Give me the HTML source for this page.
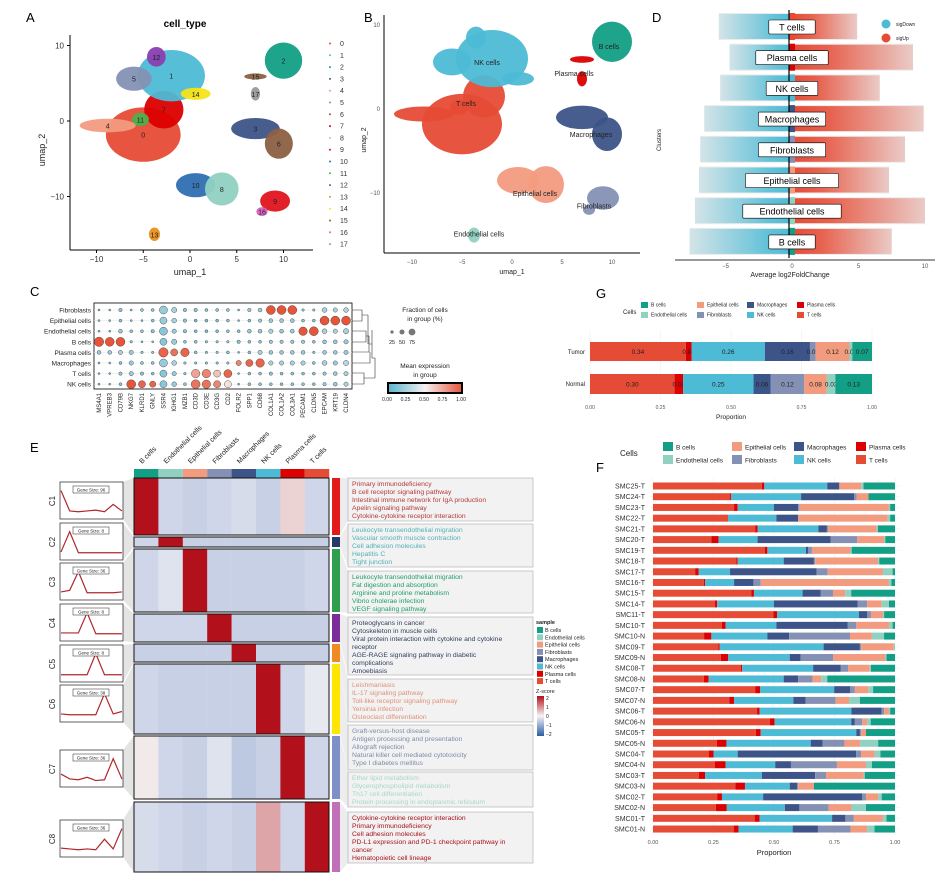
<!DOCTYPE html>
<html><head><meta charset="utf-8"><title>Single-cell figure</title>
<style>
html,body{margin:0;padding:0;background:#fff;}
svg{display:block;font-family:"Liberation Sans",Arial,sans-serif;}
</style></head>
<body>
<svg id="fig" width="947" height="880" viewBox="0 0 947 880" xmlns="http://www.w3.org/2000/svg">
<defs>
<linearGradient id="cgrad" x1="0" x2="1" y1="0" y2="0"><stop offset="0" stop-color="#5ab4cc"/><stop offset="0.5" stop-color="#f5f0f0"/><stop offset="1" stop-color="#e6553a"/></linearGradient>
<linearGradient id="zgrad" x1="0" x2="0" y1="1" y2="0"><stop offset="0" stop-color="#2b5fa0"/><stop offset="0.35" stop-color="#b8c4e0"/><stop offset="0.5" stop-color="#f5f5f5"/><stop offset="1" stop-color="#b2101a"/></linearGradient>
<linearGradient id="dgradL" x1="1" x2="0" y1="0" y2="0"><stop offset="0" stop-color="#4dbbd5" stop-opacity="1"/><stop offset="0.25" stop-color="#4dbbd5" stop-opacity="0.85"/><stop offset="1" stop-color="#4dbbd5" stop-opacity="0.15"/></linearGradient>
<linearGradient id="dgradR" x1="0" x2="1" y1="0" y2="0"><stop offset="0" stop-color="#e64b35" stop-opacity="1"/><stop offset="0.3" stop-color="#e64b35" stop-opacity="0.85"/><stop offset="1" stop-color="#e64b35" stop-opacity="0.2"/></linearGradient>
</defs>
</svg>
<script>
// ---------- data ----------
const typeNames = ['B cells','Endothelial cells','Epithelial cells','Fibroblasts','Macrophages','NK cells','Plasma cells','T cells'];
const typeCols  = ['#139f86','#91d1c2','#f39b7f','#8491b4','#3c5488','#4dbbd5','#dc0000','#e64b35'];
// stacking order for proportion bars: T, Plasma, NK, Mac, Fib, Epi, Endo, B
const stackOrder = [7,6,5,4,3,2,1,0];

// UMAP clusters (umap_1, umap_2 centers, spreads)
const clusterIds   = [0,7,11,1,5,12,14,4,2,15,17,3,6,10,8,9,16,13];
const clusterU     = [-5,-2.8,-5.3,-2,-6,-3.6,0.6,-8.8,10,7,7,7,9.5,0.6,3.4,9.1,7.7,-3.8];
const clusterV     = [-1.8,1.5,0.2,6,5.6,8.5,3.6,-0.6,8,5.9,3.6,-1,-3,-8.5,-9,-10.6,-12,-15];
const clusterRu    = [4,2.1,0.9,3.6,1.9,1,1.6,3,2,1.2,0.5,2.6,1.5,2.1,1.8,1.6,0.6,0.6];
const clusterRv    = [3.6,2.5,0.9,3.4,1.6,1.3,0.8,0.9,2.4,0.4,0.9,1.4,2.0,1.6,2.2,1.4,0.6,0.9];
const clusterColor = ['#e64b35','#dc0000','#4daf4a','#4dbbd5','#8491b4','#8a3fb0','#f5e31a','#f39b7f','#139f86','#8b6042','#9a9a9a','#3c5488','#8b6042','#2f6fb2','#91d1c2','#e0141e','#d860c0','#e89020'];
const clusterType  = [7,7,7,5,5,5,5,7,0,6,6,4,4,2,2,3,3,1];

// Panel C dot plot
const dotGenes = ['MS4A1','VPREB3','CD79B','NKG7','KLRD1','GNLY','SSR4','IGHG1','MZB1','CD3D','CD3E','CD3G','CD2','FOLR2','SPP1','CD68','COL1A1','COL1A2','COL3A1','PECAM1','CLDN5','EPCAM','KRT19','CLDN4'];
const dotRows = ['Fibroblasts','Epithelial cells','Endothelial cells','B cells','Plasma cells','Macrophages','T cells','NK cells'];
const expFib  = [.1,.1,.15,.1,.15,.15,.2,.25,.15,.15,.15,.15,.15,.1,.2,.25,1,1,1,.15,.15,.25,.25,.25];
const expEpi  = [.1,.1,.15,.1,.1,.15,.2,.25,.15,.1,.1,.1,.15,.1,.15,.2,.2,.2,.2,.15,.15,1,1,1];
const expEndo = [.1,.1,.2,.15,.15,.15,.15,.2,.15,.1,.1,.1,.15,.15,.2,.2,.25,.2,.2,1,1,.25,.25,.25];
const expB    = [1,1,1,.15,.1,.1,.15,.2,.15,.15,.15,.15,.15,.15,.15,.15,.2,.2,.2,.2,.15,.2,.2,.2];
const expPl   = [.2,.2,.25,.2,.15,.15,.95,.9,.95,.15,.15,.15,.15,.1,.15,.25,.2,.2,.2,.2,.15,.2,.2,.2];
const expMac  = [.1,.1,.15,.2,.15,.15,.2,.25,.15,.15,.15,.15,.15,.85,.95,.95,.25,.25,.25,.25,.15,.25,.2,.3];
const expT    = [.1,.1,.2,.2,.15,.15,.15,.2,.15,.75,.85,.65,.95,.1,.15,.15,.15,.15,.15,.15,.15,.2,.2,.25];
const expNK   = [.1,.1,.15,1,.95,.95,.15,.2,.15,.9,.9,.85,.55,.1,.15,.15,.15,.15,.15,.15,.15,.2,.2,.25];
const fracFib  = [5,5,20,5,15,15,70,40,20,20,15,15,15,5,20,25,80,80,80,10,10,35,30,35];
const fracEpi  = [5,5,15,5,5,15,60,35,20,15,15,15,15,5,15,20,25,25,25,15,15,80,80,80];
const fracEndo = [5,5,25,15,15,20,70,30,20,15,15,15,15,15,25,25,30,25,25,75,80,35,30,40];
const fracB    = [85,80,80,10,5,5,60,40,15,15,10,10,10,20,15,15,20,20,20,20,15,25,25,30];
const fracPl   = [25,25,30,30,10,10,85,60,75,15,10,10,15,5,15,30,25,25,25,25,10,25,25,30];
const fracMac  = [5,5,15,30,15,15,70,35,10,10,10,10,10,40,60,75,30,30,30,30,15,35,30,40];
const fracT    = [5,5,20,30,20,15,60,30,10,75,75,60,70,5,15,15,20,15,15,15,15,20,25,30];
const fracNK   = [5,5,15,80,60,50,60,35,15,80,75,60,60,5,15,15,15,15,15,15,15,20,25,30];

// Panel D differential expression bands (min / max log2FC per cluster)
const degClusters = ['T cells','Plasma cells','NK cells','Macrophages','Fibroblasts','Epithelial cells','Endothelial cells','B cells'];
const degTypeIdx  = [7,6,5,4,3,2,1,0];
const degMin = [-5.5,-4.7,-5.4,-6.6,-6.9,-7,-7.3,-7.7];
const degMax = [4.9,9.1,6.6,9.9,8.5,7.3,10,7.5];

// Panel E heatmap (cluster x cell-type z-scores)
const heatClusters = ['C1','C2','C3','C4','C5','C6','C7','C8'];
const zC1 = [2,-0.5,-0.6,-0.5,-0.4,-0.6,0.3,-0.5];
const zC2 = [-0.5,2,-0.6,-0.6,-0.6,-0.6,-0.6,-0.6];
const zC3 = [-0.5,-0.3,2,-0.6,-0.6,-0.6,-0.6,-0.5];
const zC4 = [-0.5,-0.5,-0.5,2,-0.6,-0.6,-0.6,-0.6];
const zC5 = [-0.6,-0.6,-0.6,-0.6,2,-0.6,-0.6,-0.6];
const zC6 = [-0.5,-0.6,-0.6,-0.6,-0.6,2,-0.5,-0.2];
const zC7 = [0.1,-0.5,-0.6,-0.3,-0.7,-0.6,2,-0.5];
const zC8 = [-0.4,-0.5,-0.6,-0.5,-0.6,0.7,-0.5,2];
const geneSizes = ['Gene Size: 96','Gene Size: 8','Gene Size: 36','Gene Size: 8','Gene Size: 8','Gene Size: 38','Gene Size: 36','Gene Size: 36'];
const pathTexts = [
 ['Primary immunodeficiency','B cell receptor signaling pathway','Intestinal immune network for IgA production','Apelin signaling pathway','Cytokine-cytokine receptor interaction'],
 ['Leukocyte transendothelial migration','Vascular smooth muscle contraction','Cell adhesion molecules','Hepatitis C','Tight junction'],
 ['Leukocyte transendothelial migration','Fat digestion and absorption','Arginine and proline metabolism','Vibrio cholerae infection','VEGF signaling pathway'],
 ['Proteoglycans in cancer','Cytoskeleton in muscle cells','Viral protein interaction with cytokine and cytokine','receptor','AGE-RAGE signaling pathway in diabetic','complications','Amoebiasis'],
 ['Leishmaniasis','IL-17 signaling pathway','Toll-like receptor signaling pathway','Yersinia infection','Osteoclast differentiation'],
 ['Graft-versus-host disease','Antigen processing and presentation','Allograft rejection','Natural killer cell mediated cytotoxicity','Type I diabetes mellitus'],
 ['Ether lipid metabolism','Glycerophospholipid metabolism','Th17 cell differentiation','Protein processing in endoplasmic reticulum'],
 ['Cytokine-cytokine receptor interaction','Primary immunodeficiency','Cell adhesion molecules','PD-L1 expression and PD-1 checkpoint pathway in','cancer','Hematopoietic cell lineage']
];

// Panel G
const gGroups = ['Tumor','Normal'];
const gTumor  = [0.34,0.02,0.26,0.16,0.02,0.12,0.01,0.07];
const gNormal = [0.30,0.03,0.25,0.06,0.12,0.08,0.03,0.13];

// Panel F
const fSamples = ['SMC25-T','SMC24-T','SMC23-T','SMC22-T','SMC21-T','SMC20-T','SMC19-T','SMC18-T','SMC17-T','SMC16-T','SMC15-T','SMC14-T','SMC11-T','SMC10-T','SMC10-N','SMC09-T','SMC09-N','SMC08-T','SMC08-N','SMC07-T','SMC07-N','SMC06-T','SMC06-N','SMC05-T','SMC05-N','SMC04-T','SMC04-N','SMC03-T','SMC03-N','SMC02-T','SMC02-N','SMC01-T','SMC01-N'];
const fT    = [.45,.32,.335,.31,.42,.24,.465,.345,.175,.21,.405,.255,.5,.285,.21,.27,.28,.365,.21,.42,.315,.43,.48,.425,.265,.23,.255,.19,.34,.265,.26,.42,.335];
const fPl   = [.01,.005,.015,0,.01,.03,.01,.005,.015,.005,.01,.01,.015,.015,.03,.005,.03,.005,.02,.02,.02,.01,.02,.02,.04,.02,.045,.025,.04,.02,.045,.02,.02];
const fNK   = [.26,.29,.15,.20,.25,.16,.16,.19,.13,.12,.2,.235,.34,.21,.23,.43,.255,.295,.31,.305,.245,.38,.315,.395,.35,.10,.205,.235,.185,.17,.24,.3,.225];
const fMac  = [.05,.22,.10,.09,.035,.30,.01,.125,.36,.08,.075,.345,.035,.295,.09,.15,.045,.115,.06,.065,.05,.125,.015,.015,.05,.49,.065,.22,.03,.41,.06,.055,.105];
const fFib  = [0,.01,.005,0,.005,.11,.015,.005,.045,.03,.05,.04,.015,.035,.25,.005,.135,.03,.06,.02,.125,.01,.03,.005,.09,.02,.19,.045,.005,.015,.12,.035,.135];
const fEpi  = [.09,.05,.37,.37,.20,.11,.16,.26,.23,.53,.05,.06,.05,.135,.09,.135,.215,.09,.035,.055,.055,.02,.02,.02,.065,.055,.12,.155,.065,.05,.095,.12,.07];
const fEndo = [.01,0,.005,.01,.005,.005,.005,.005,.04,.01,.025,.03,.005,.015,.05,.005,.005,.005,.025,.02,.045,.005,.015,0,.075,.025,.025,.005,0,.015,.06,.015,.03];
const fB    = [.13,.11,.02,.02,.07,.04,.18,.065,.01,.015,.18,.025,.045,.01,.045,0,.035,.10,.28,.09,.145,.02,.10,.12,.07,.06,.095,.125,.335,.055,.12,.035,.085];
const propTicks = ['0.00','0.25','0.50','0.75','1.00'];

// ---------- helpers ----------
const NS='http://www.w3.org/2000/svg';
const svg=document.getElementById('fig');
function mk(tag,attrs,parent,name){
  const el=document.createElementNS(NS,tag);
  for(const k in attrs) el.setAttribute(k,attrs[k]);
  
  
  (parent||svg).appendChild(el);
  return el;
}
function txt(x,y,s,size,extra,name,parent){
  const a=Object.assign({x:x,y:y,'font-size':size,fill:'#222'},extra||{});
  const t=mk('text',a,parent,name);
  t.textContent=s;return t;
}
function grp(name){return mk('g',{},svg,name);}

// panel letters
[['A',26,22],['B',364,22],['D',652,22],['C',30,296],['G',596,298],['E',30,452],['F',596,472]].forEach(function(p){
  txt(p[1],p[2],p[0],13,{'font-weight':'normal',fill:'#000'},'panel-label-'+p[0].toLowerCase());
});

// ---------- Panel A ----------
(function(){
  const g=grp('umap-cluster-plot');
  const ax=u=>190+9.35*u, ay=v=>121-7.55*v;
  txt(185,27,'cell_type',10,{'font-weight':'bold','text-anchor':'middle',fill:'#000'},'umap-a-title',g);
  for(let i=0;i<clusterIds.length;i++){
    mk('ellipse',{cx:ax(clusterU[i]),cy:ay(clusterV[i]),rx:9.35*clusterRu[i],ry:7.55*clusterRv[i],fill:clusterColor[i],opacity:0.95},g,'cluster-'+clusterIds[i]);
  }
  for(let i=0;i<clusterIds.length;i++){
    txt(ax(clusterU[i]),ay(clusterV[i])+3,String(clusterIds[i]),7,{'text-anchor':'middle',fill:'#222'},'cluster-label-'+clusterIds[i],g);
  }
  mk('line',{x1:70,y1:35,x2:70,y2:250,stroke:'#000','stroke-width':1},g,'y-axis');
  mk('line',{x1:70,y1:250,x2:313,y2:250,stroke:'#000','stroke-width':1},g,'x-axis');
  [-10,-5,0,5,10].forEach(function(t){
    mk('line',{x1:ax(t),y1:250,x2:ax(t),y2:253,stroke:'#000'},g,'x-tick');
    txt(ax(t),262,String(t).replace('-','−'),8,{'text-anchor':'middle',fill:'#333'},'x-tick-label',g);
  });
  [-10,0,10].forEach(function(t){
    mk('line',{x1:67,y1:ay(t),x2:70,y2:ay(t),stroke:'#000'},g,'y-tick');
    txt(64,ay(t)+3,String(t).replace('-','−'),8,{'text-anchor':'end',fill:'#333'},'y-tick-label',g);
  });
  txt(190,275,'umap_1',9,{'text-anchor':'middle'},'x-axis-title',g);
  txt(45,150,'umap_2',9,{'text-anchor':'middle',transform:'rotate(-90 45 150)'},'y-axis-title',g);
  for(let k=0;k<18;k++){
    const y=46+k*11.8;
    const idx=clusterIds.indexOf(k);
    mk('circle',{cx:330,cy:y-2.5,r:1,fill:clusterColor[idx]},g,'legend-dot');
    txt(340,y,String(k),7,{fill:'#333'},'legend-entry',g);
  }
})();

// ---------- Panel B ----------
(function(){
  const g=grp('umap-celltype-plot');
  const bx=u=>512+10*u, by=v=>109-8.4*v;
  for(let i=0;i<clusterIds.length;i++){
    mk('ellipse',{cx:bx(clusterU[i]),cy:by(clusterV[i]),rx:10*clusterRu[i],ry:8.4*clusterRv[i],fill:typeCols[clusterType[i]],opacity:0.95},g,'celltype-region');
  }
  const lbl=[['NK cells',-2.5,5.6],['T cells',-4.6,0.7],['B cells',9.7,7.5],['Plasma cells',6.2,4.3],['Macrophages',7.9,-3],['Epithelial cells',2.3,-10],['Fibroblasts',8.2,-11.5],['Endothelial cells',-3.3,-14.8]];
  lbl.forEach(function(l){txt(bx(l[1]),by(l[2])+3,l[0],7,{'text-anchor':'middle',fill:'#222'},'celltype-label',g);});
  mk('line',{x1:384,y1:15,x2:384,y2:253,stroke:'#000'},g,'y-axis');
  mk('line',{x1:384,y1:253,x2:640,y2:253,stroke:'#000'},g,'x-axis');
  [-10,-5,0,5,10].forEach(function(t){txt(bx(t),264,String(t).replace('-','−'),6,{'text-anchor':'middle',fill:'#555'},'x-tick-label',g);});
  [-10,0,10].forEach(function(t){txt(380,by(t)+2,String(t).replace('-','−'),6,{'text-anchor':'end',fill:'#555'},'y-tick-label',g);});
  txt(512,274,'umap_1',7,{'text-anchor':'middle'},'x-axis-title',g);
  txt(366,140,'umap_2',7,{'text-anchor':'middle',transform:'rotate(-90 366 140)'},'y-axis-title',g);
})();

// ---------- Panel D ----------
(function(){
  const g=grp('deg-plot');
  const dx=v=>792+13.3*v;
  for(let i=0;i<degClusters.length;i++){
    const yc=27+i*30.7;
    mk('rect',{x:dx(degMin[i]),y:yc-14,width:dx(degMax[i])-dx(degMin[i]),height:27,fill:'#ebebeb'},g,'cluster-band');
    mk('rect',{x:dx(degMin[i]),y:yc-13,width:dx(0)-dx(degMin[i]),height:25,fill:'url(#dgradL)'},g,'sigdown-points');
    mk('rect',{x:dx(0),y:yc-13,width:dx(degMax[i])-dx(0),height:25,fill:'url(#dgradR)'},g,'sigup-points');
    mk('rect',{x:789,y:yc-14,width:6,height:27,fill:typeCols[degTypeIdx[i]]},g,'cluster-strip');
  }
  mk('line',{x1:789,y1:10,x2:789,y2:258,stroke:'#000','stroke-width':1.2},g,'zero-line');
  for(let i=0;i<degClusters.length;i++){
    const yc=27+i*30.7;
    const w=degClusters[i].length*5.2+10;
    mk('rect',{x:792-w/2,y:yc-7,width:w,height:14,fill:'#fff',stroke:'#000','stroke-width':0.6,rx:1},g,'cluster-label-box');
    txt(792,yc+3.5,degClusters[i],9,{'text-anchor':'middle',fill:'#000'},'cluster-label',g);
  }
  mk('line',{x1:675,y1:260,x2:935,y2:260,stroke:'#333'},g,'x-axis');
  [-5,0,5,10].forEach(function(t){txt(dx(t),268,String(t).replace('-','−'),6,{'text-anchor':'middle',fill:'#555'},'x-tick-label',g);});
  txt(790,277,'Average log2FoldChange',7,{'text-anchor':'middle'},'x-axis-title',g);
  txt(661,140,'Clusters',6,{'text-anchor':'middle',transform:'rotate(-90 661 140)'},'y-axis-title',g);
  mk('circle',{cx:886,cy:24,r:4.5,fill:'#4dbbd5'},g,'legend-sigdown');
  txt(896,26,'sigDown',5,{},'legend-sigdown-label',g);
  mk('circle',{cx:886,cy:38,r:4.5,fill:'#e64b35'},g,'legend-sigup');
  txt(896,40,'sigUp',5,{},'legend-sigup-label',g);
})();

// ---------- Panel C ----------
(function(){
  const g=grp('dot-plot');
  const exps=[expFib,expEpi,expEndo,expB,expPl,expMac,expT,expNK];
  const fracs=[fracFib,fracEpi,fracEndo,fracB,fracPl,fracMac,fracT,fracNK];
  const cx=j=>99+j*10.74, cy=i=>310+i*10.6;
  function col(v){
    const c1=[90,180,204],c2=[245,240,240],c3=[230,85,58];
    let a,b,t; if(v<0.5){a=c1;b=c2;t=v/0.5;}else{a=c2;b=c3;t=(v-0.5)/0.5;}
    return 'rgb('+a.map((x,k)=>Math.round(x+(b[k]-x)*t)).join(',')+')';
  }
  mk('rect',{x:94,y:303,width:258,height:86,fill:'#fff',stroke:'#000','stroke-width':0.8},g,'dot-plot-frame');
  for(let i=0;i<dotRows.length;i++){
    mk('line',{x1:94,y1:cy(i),x2:352,y2:cy(i),stroke:'#e6e6e6','stroke-width':0.5},g,'grid-line');
    txt(91,cy(i)+2.5,dotRows[i],6.5,{'text-anchor':'end'},'row-label',g);
    for(let j=0;j<dotGenes.length;j++){
      const r=0.8+fracs[i][j]/100*4.6;
      const d=mk('circle',{cx:cx(j),cy:cy(i),r:r,fill:col(exps[i][j]),stroke:'#333','stroke-width':0.4},g,'dot');
      
    }
  }
  for(let j=0;j<dotGenes.length;j++){
    txt(cx(j)+2,393,dotGenes[j],6,{'text-anchor':'end',transform:'rotate(-90 '+(cx(j)+2)+' 393)'},'gene-label',g);
  }
  // dendrogram
  const dg='M352 310 H362 V321 H352 M362 315 H368 M352 331 H366 V342 H352 M366 336 H369 V352 H352 M368 315 V344 M369 344 H372 M352 363 H370 V352 M352 373 H364 V384 H352 M364 378 H375 M372 330 V358 H375 V378';
  mk('path',{d:dg,fill:'none',stroke:'#333','stroke-width':0.6},g,'dendrogram');
  txt(425,312,'Fraction of cells',6.5,{'text-anchor':'middle'},'size-legend-title',g);
  txt(425,321,'in group (%)',6.5,{'text-anchor':'middle'},'size-legend-title2',g);
  [[392,25],[402,50],[412,75]].forEach(function(p){mk('circle',{cx:p[0],cy:332,r:0.8+p[1]/100*3.5,fill:'#777'},g,'size-legend-dot');txt(p[0],344,String(p[1]),5.5,{'text-anchor':'middle'},'size-legend-label',g);});
  txt(425,368,'Mean expression',6.5,{'text-anchor':'middle'},'color-legend-title',g);
  txt(425,377,'in group',6.5,{'text-anchor':'middle'},'color-legend-title2',g);
  mk('rect',{x:388,y:383,width:74,height:10,fill:'url(#cgrad)',stroke:'#000','stroke-width':2},g,'color-legend-bar');
  ['0.00','0.25','0.50','0.75','1.00'].forEach(function(t,k){txt(387+k*18.5,401,t,5,{'text-anchor':'middle'},'color-legend-tick',g);});
})();

// ---------- Panel E ----------
(function(){
  const g=grp('cluster-heatmap');
  const zs=[zC1,zC2,zC3,zC4,zC5,zC6,zC7,zC8];
  const yTop=[478,537,549,614,644,664,736,802];
  const yBot=[535,547,612,642,662,734,799,872];
  const boxY=[482,523,563,604,645,685,750,820];
  const tbY=[478,524,571,617,679,725,772,812];
  const tbH=[43,43,42,58,43,45,35,51];
  const stripCols=['#e31a1c','#253a6b','#2e9e4f','#7b2d9a','#f08a24','#ffe600','#7f90c8','#c070b8'];
  const textCols=['#b5383a','#4fb0b7','#1f9e6a','#2f3d5e','#e0907a','#7e8ba8','#a5d8c8','#a8101e'];
  const hx=c=>134+c*24.4;
  function zcol(z){
    const stops=[[-2,[43,95,160]],[-0.6,[200,208,230]],[0,[245,245,245]],[2,[178,16,26]]];
    for(let k=0;k<stops.length-1;k++){
      if(z<=stops[k+1][0]){const a=stops[k],b=stops[k+1];const t=(z-a[0])/(b[0]-a[0]);return 'rgb('+a[1].map((x,m)=>Math.round(x+(b[1][m]-x)*t)).join(',')+')';}
    }
    return 'rgb(178,16,26)';
  }
  // column header
  for(let c=0;c<8;c++){
    mk('rect',{x:hx(c),y:469,width:24.4,height:9,fill:typeCols[c]},g,'column-annotation');
    txt(hx(c)+8,464,typeNames[c],7,{transform:'rotate(-45 '+(hx(c)+8)+' 464)'},'column-label',g);
  }
  for(let i=0;i<8;i++){
    // connector fans
    mk('polygon',{points:'123,'+boxY[i]+' 134,'+yTop[i]+' 134,'+yBot[i]+' 123,'+(boxY[i]+37),fill:'#e4e4e4'},g,'cluster-connector');
    mk('polygon',{points:'340,'+yTop[i]+' 348,'+tbY[i]+' 348,'+(tbY[i]+tbH[i])+' 340,'+yBot[i],fill:'#ededed'},g,'pathway-connector');
    for(let c=0;c<8;c++){
      const r=mk('rect',{x:hx(c),y:yTop[i],width:24.6,height:yBot[i]-yTop[i],fill:zcol(zs[i][c])},g,'heat-cell');
      
    }
    mk('rect',{x:134,y:yTop[i],width:195,height:yBot[i]-yTop[i],fill:'none',stroke:'#111','stroke-width':1},g,'cluster-block-border');
    mk('rect',{x:332,y:yTop[i],width:8,height:yBot[i]-yTop[i],fill:stripCols[i]},g,'cluster-strip');
    // profile box
    const bg=mk('g',{},g,'profile-'+heatClusters[i]);
    mk('rect',{x:60,y:boxY[i],width:63,height:37,fill:'#fff',stroke:'#222','stroke-width':0.7},bg,'profile-box');
    let pts=[];
    for(let c=0;c<8;c++){pts.push((61+c*8.7)+','+(boxY[i]+33-((zs[i][c]+1)/3.2)*26));}
    mk('polyline',{points:pts.join(' '),fill:'none',stroke:'#b0282c','stroke-width':1.2},bg,'profile-line');
    mk('rect',{x:73,y:boxY[i]+4,width:36,height:7,fill:'#fff',stroke:'#222','stroke-width':0.5},bg,'gene-size-box');
    txt(91,boxY[i]+9.5,geneSizes[i],4.5,{'text-anchor':'middle'},'gene-size-label',bg);
    txt(52,boxY[i]+22,heatClusters[i],8,{'text-anchor':'middle',transform:'rotate(-90 52 '+(boxY[i]+19)+')'},'cluster-name',g);
    // pathway text box
    mk('rect',{x:348,y:tbY[i],width:185,height:tbH[i],fill:'#f2f2f2',stroke:'#aaa','stroke-width':0.6},g,'pathway-box');
    pathTexts[i].forEach(function(s,k){txt(352,tbY[i]+8+k*8,s,6.8,{fill:textCols[i]},'pathway-term',g);});
  }
  // legends
  txt(536,624,'sample',5.5,{'font-weight':'bold'},'sample-legend-title',g);
  for(let c=0;c<8;c++){
    mk('rect',{x:537,y:627+c*7.3,width:6,height:6,fill:typeCols[c]},g,'sample-legend-swatch');
    txt(545,632+c*7.3,typeNames[c],5.5,{},'sample-legend-label',g);
  }
  txt(536,693,'Z-score',5.5,{},'zscore-legend-title',g);
  mk('rect',{x:537,y:696,width:7,height:40,fill:'url(#zgrad)'},g,'zscore-legend-bar');
  ['2','1','0','−1','−2'].forEach(function(t,k){txt(546,700+k*9,t,5,{},'zscore-legend-tick',g);});
})();

// ---------- stacked bar helper ----------
function stackBar(g,x0,x1,y,h,vals,labels,name){
  const tot=vals.reduce((a,b)=>a+b,0)||1;
  let acc=0;
  for(let k=0;k<vals.length;k++){
    const xa=x0+(x1-x0)*acc/tot, w=(x1-x0)*vals[k]/tot;
    const r=mk('rect',{x:xa,y:y,width:Math.max(w,0),height:h,fill:typeCols[stackOrder[k]]},g,name);
    
    if(labels && w>0) txt(xa+w/2,y+h/2+2.5,vals[k].toFixed(2),6.5,{'text-anchor':'middle',fill:'#222'},'bar-value-label',g);
    acc+=vals[k];
  }
}
function cellLegend(g,x0,y0,colX,rowH,sw,sh,fs,titleX,titleY,titleFs){
  txt(titleX,titleY,'Cells',titleFs,{},'legend-title',g);
  for(let c=0;c<8;c++){
    const cx=colX[Math.floor(c/2)], cy=y0+(c%2)*rowH;
    mk('rect',{x:cx,y:cy,width:sw,height:sh,fill:typeCols[c]},g,'legend-swatch');
    txt(cx+sw+3,cy+sh-1.5,typeNames[c],fs,{},'legend-entry',g);
  }
}

// ---------- Panel G ----------
(function(){
  const g=grp('group-proportion-chart');
  const x0=590,x1=872;
  for(let k=0;k<5;k++){mk('line',{x1:x0+(x1-x0)*k/4,y1:330,x2:x0+(x1-x0)*k/4,y2:400,stroke:'#eee','stroke-width':0.6},g,'grid-line');}
  cellLegend(g,0,302,[641,697,747,797],10,7,6,5,623,314,6);
  stackBar(g,x0,x1,342,19,gTumor,true,'tumor-bar');
  stackBar(g,x0,x1,374,20,gNormal,true,'normal-bar');
  txt(585,354,gGroups[0],6,{'text-anchor':'end'},'row-label-tumor',g);
  txt(585,386,gGroups[1],6,{'text-anchor':'end'},'row-label-normal',g);
  propTicks.forEach(function(t,k){txt(x0+(x1-x0)*k/4,409,t,5,{'text-anchor':'middle',fill:'#555'},'x-tick-label',g);});
  txt(731,419,'Proportion',6.5,{'text-anchor':'middle'},'x-axis-title',g);
})();

// ---------- Panel F ----------
(function(){
  const g=grp('sample-proportion-chart');
  const x0=653,x1=895;
  const series=[fT,fPl,fNK,fMac,fFib,fEpi,fEndo,fB];
  cellLegend(g,0,442,[663,732,794,856],13,10,9,6.5,620,456,8);
  for(let k=0;k<5;k++){mk('line',{x1:x0+(x1-x0)*k/4,y1:478,x2:x0+(x1-x0)*k/4,y2:835,stroke:'#eee','stroke-width':0.6},g,'grid-line');}
  for(let i=0;i<fSamples.length;i++){
    const y=486+i*10.72;
    mk('line',{x1:650,y1:y,x2:900,y2:y,stroke:'#eee','stroke-width':0.5},g,'row-grid-line');
    stackBar(g,x0,x1,y-3.5,7,series.map(s=>s[i]),false,'sample-bar');
    txt(645,y+2.5,fSamples[i],7,{'text-anchor':'end',fill:'#333'},'sample-label',g);
  }
  propTicks.forEach(function(t,k){txt(x0+(x1-x0)*k/4,844,t,5.5,{'text-anchor':'middle',fill:'#555'},'x-tick-label',g);});
  txt(774,855,'Proportion',7.5,{'text-anchor':'middle'},'x-axis-title',g);
})();
</script>
</body></html>
